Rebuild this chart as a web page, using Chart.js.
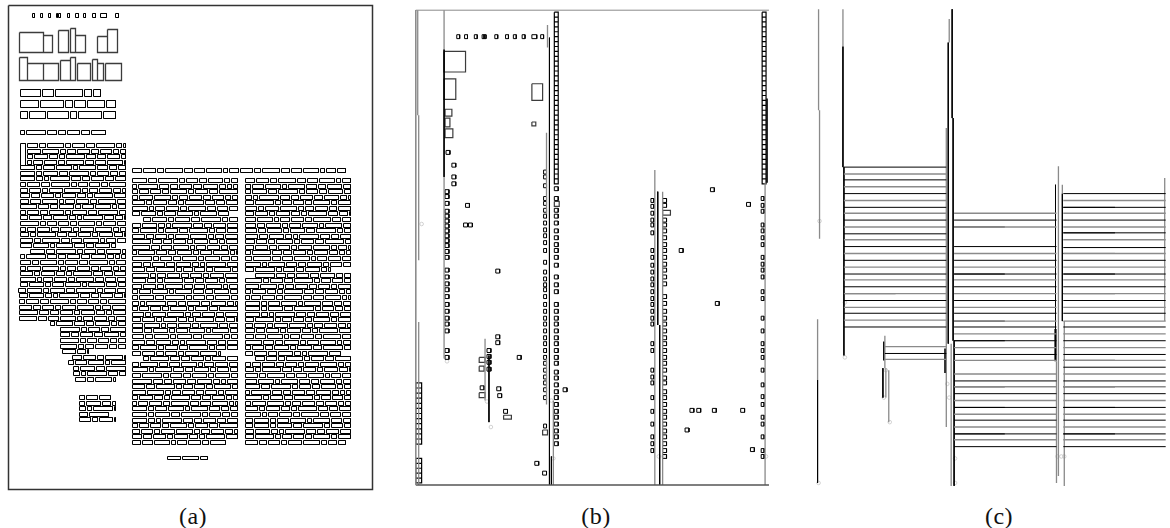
<!DOCTYPE html>
<html>
<head>
<meta charset="utf-8">
<script src="https://cdn.jsdelivr.net/npm/chart.js@4.4.1/dist/chart.umd.min.js"></script>
<style>
  body { margin: 0; background: #fff; width: 1170px; height: 528px; position: relative; overflow: hidden; }
  canvas { position: absolute; top: 0; }
  .lbl { position: absolute; top: 504px; width: 60px; margin-left: -30px; text-align: center; letter-spacing: 0.5px;
         font-family: 'Liberation Serif', 'DejaVu Serif', serif; font-size: 24px; line-height: 24px; color: #111; }
</style>
</head>
<body>
<canvas id="panelA" width="390" height="500" style="left:0px"></canvas>
<canvas id="panelB" width="395" height="500" style="left:390px"></canvas>
<canvas id="panelC" width="385" height="500" style="left:785px"></canvas>
<div class="lbl" style="left:193px">(a)</div>
<div class="lbl" style="left:596px">(b)</div>
<div class="lbl" style="left:999px">(c)</div>
<script>
const BLACK = '#000';
const DARK = '#3c3c3c';
const GRAY = '#8a8a8a';
const FAINT = '#c8c8c8';

// ---------- (a) page with word boxes ----------
const frameA = [8, 5, 372, 489];
const headerA = [[32,34],[40,42],[48,50],[56,57],[58,60],[67,69],[75,78],[83,85],[92,95],[100,106],[115,118]]; // y 13..17
const titleA = [[19,32,43,52],[43,35,52,52],[58,30,68,52],[70,28,75,52],[75,35,85,52],[97,36,107,52],[107,29,117,52],
  [19,57,27,80],[27,63,43,80],[43,63,58,80],[60,60,70,80],[70,57,75,80],[77,63,90,80],[92,59,97,80],[97,63,103,80],[105,63,121,80]];
const subtitleTopsA = [89, 100, 111];
const subtitleA = [[20,100],[20,115],[20,115]];
const authorA = [20, 105];      // y 130
const dropCapA = [20, 143, 25, 165];
const wideLineA = [132, 345];   // y 168
const footerA = [167, 207];     // y 456

const col1Top = 143, col1bTop = 395, col2Top = 178, col3Top = 178;
const linePitch = 5.57;
const col1Lines = [
  [27,125],[27,125],[27,125],[27,125],
  [20,125],[20,125],[20,125],[20,125],[20,125],[20,125],[20,125],[20,125],[20,125],[20,125],[20,125],[20,125],[20,125],[20,125],
  [20,115],[30,125],
  [20,125],[20,125],[20,125],[20,125],[20,125],[20,125],[18,125],[19,125],[19,125],[19,125],[19,125],[19,125],
  [50,125],[60,125],[60,125],[60,125],[60,125],[62,88],[72,125],[68,125],[73,125],[73,125],[75,115]
];
const col1bLines = [[79,110],[79,115],[79,115],[79,108],[79,115]];
const col2Lines = [
  [132,237],[132,237],[132,237],[132,237],[132,237],[132,237],[132,228],[143,237],
  [132,237],[132,237],[132,237],[132,237],[132,237],[132,237],[132,237],[132,237],[132,237],[132,237],[132,237],[132,237],
  [132,237],[132,237],[132,237],[132,237],[132,237],[132,237],[132,237],[132,237],[132,237],[132,237],[132,237],
  [132,220],[143,237],
  [132,237],[132,237],[132,237],[132,237],[132,237],[132,237],[132,237],[132,237],[132,237],[132,237],[132,237],[132,237],[132,237],[132,237],
  [132,225]
];
const col3Lines = [
  [245,350],[245,350],[245,350],[245,350],[245,350],[245,350],[245,350],[245,350],[245,350],[245,350],[245,350],[245,350],[245,350],[245,350],[245,350],[245,350],
  [245,330],[255,350],
  [245,350],[245,350],[245,350],[245,350],[245,350],[245,350],[245,350],[245,350],[245,350],[245,350],[245,350],[245,350],[245,350],
  [245,340],[255,350],
  [245,350],[245,350],[245,350],[245,350],[245,350],[245,350],[245,350],[245,350],[245,350],[245,350],[245,350],[245,350],[245,350],[245,350],
  [245,345]
];
const wordWidths = [
  [10, 6, 16, 5, 12, 8, 18, 5, 9],
  [5, 14, 8, 19, 5, 11, 7, 14],
  [15, 4, 9, 12, 6, 17, 8, 10],
  [7, 11, 5, 13, 16, 5, 8, 12],
  [12, 8, 14, 6, 4, 19, 9, 7],
  [4, 16, 10, 7, 14, 5, 11, 15],
  [8, 5, 18, 9, 8, 12, 5, 13]
];

// ---------- (b) projected boxes ----------
const frameBGray = [[411, 5, 489]];
const frameBTop = [411, 773, 5];
const frameBBottom = [411, 773, 489];
const headerB = [[453,456],[461,464],[471,474],[479,481],[481,483],[492,495],[503,506],[511,514],[520,523],[530,535],[539,542]]; // y 30..34
const bigBoxesB = [[440,47,462,68],[440,75,452,96],[441,106,448,113],[441,115,446,124],[441,126,449,135],[530,80,541,97],[530,119,534,123],
  [476,359,482,364],[476,368,481,373],[476,395,482,400],[501,418,509,422],[541,433,546,438],[664,209,672,214],[553,200,558,205]];
const stacksB = [[553,557,7,5,35],[766,770,7,5,35],[411,417,385,5.2,12],[411,417,462,5,5]]; // x0,x1,top,cell,count
const colXB = [[441,445],[542,545],[553,557],[652,655],[664,668],[765,768]];
const bCol1Y = [188,193,200,208,213,218,223,228,233,238,243,249,255,268,275,282,288,295,303,310,317,323,330,350,357];
const bCol2Y = [168,173,182,195,200,207,213,220,227,233,240,248,260,270,277,283,288,295,303,310,317,323,330,337,343,350,357,363,370,377,383,390,398,427];
const bCol3Y = [185,195,207,213,220,228,235,242,248,255,263,275,283,290,303,310,317,323,330,337,343,350,357,363,372,378,385,392,398,405,412,418,425,432,438,445];
const bCol4Y = [197,203,210,217,222,230,248,255,263,270,277,283,290,297,303,310,317,323,343,350,370,377,383,398,412,425,438,445,452];
const bCol5Y = [197,202,217,222,228,235,242,248,255,262,268,275,282,295,302,310,317,323,330,337,343,350,357,363,370,378,383,392,398,405,412,418,425,432,438,445,452,458];
const bCol6Y = [195,202,208,222,228,235,242,255,262,268,275,290,297,317,330,343,350,357,370,385,397,405,418,425,438,452,458];
const looseB = [[442,148],[448,161],[448,173],[448,180],[462,202],[460,222],[465,222],[493,269],[493,336],[493,342],[484,350],[484,356],[484,362],[484,369],
  [477,388],[494,389],[495,396],[501,412],[515,357],[533,465],[541,475],[562,390],[713,186],[750,201],[681,248],[718,302],[692,411],[699,411],[715,411],[744,411],[687,431],[754,451]];
const blackVB = [[440,45,175],[548,33,489],[486,357,425],[659,190,326],[661,326,489],[550,460,489]];
const grayVB = [[413,5,112],[414,112,260],[414,323,489],[440,5,45],[440,175,360],[546,20,43],[545,130,213],[545,360,407],[552,403,489],
  [482,340,403],[656,168,489],[664,190,489],[769,181,489]];
const thickVB = [[771,95,181]];
const dotsB = [[443,363],[484,404],[488,430],[550,403],[552,462],[660,460],[665,460],[770,460],[417,223]];

// ---------- (c) line structure ----------
const c1Span = [840, 945], c2Span = [953, 1058], c3Span = [1065, 1170];
const c1Split = 893, c2Split = 1005, c3Split = 1118;
const c1BlackY = [165,178,192,206,219,233,246,260,274,287,301,314,328];
const c1GrayY = [172,185,199,212,226,239,253,267,280,294,308,321];
const c1SplitY = [294];
const c2BlackY = [219,246,260,274,287,301,314,328,342,356,383,396,410,423,437,450];
const c2GrayY = [212,226,253,267,280,294,308,322,335,349,362,376,389,403,417,430,443];
const c2SplitY = [226,274,322,342,389,410,437];
const c3BlackY = [192,206,219,232,247,260,274,287,301,314,328,342,356,369,383,396,410,423,437,450];
const c3GrayY = [199,212,226,239,253,267,280,294,308,322,335,349,362,376,389,403,417,430,443];
const c3SplitY = [206,232,253,274,294,362,389,410,437];
const cSmallSpan = [882, 945];
const cSmallBlackY = [355];
const cSmallGrayY = [348, 361];
const blackVC = [[813,382,487],[839,42,165],[840,165,357],[947,38,345],[951,4,115],[952,115,342],[953,342,490],[1057,183,330],
  [1064,192,322],[881,343,362],[880,370,400]];
const grayVC = [[814,4,107],[815,107,238],[813,320,382],[839,4,42],[945,125,430],[948,14,38],[950,345,490],[1058,363,487],[1060,164,480],
  [1066,322,490],[1064,183,192],[1169,176,322],[882,337,370],[883,370,400],[886,372,425]];
const thickVC = [[944,350,375],[1057,330,363]];
const dotsC = [[815,220],[841,303],[841,359],[883,372],[881,400],[887,425],[946,386],[948,400],[954,462],[954,487],[1059,460],[1063,460],[1066,460],[814,487]];

// ---------- helpers ----------
function rectPts(rects) {
  const pts = [];
  rects.forEach(([x0, y0, x1, y1]) => {
    pts.push({x:x0,y:y0},{x:x1,y:y0},{x:x1,y:y1},{x:x0,y:y1},{x:x0,y:y0},{x:x0,y:null});
  });
  return pts;
}
function vPts(segs) {
  const pts = [];
  segs.forEach(([x, y0, y1]) => pts.push({x, y:y0},{x, y:y1},{x, y:null}));
  return pts;
}
function hPts(x0, x1, ys) {
  const pts = [];
  ys.forEach(y => pts.push({x:x0, y},{x:x1, y},{x:x1, y:null}));
  return pts;
}
function words(x0, x1, top, h, seed, scale) {
  scale = scale || 1;
  const ws = wordWidths[seed % wordWidths.length];
  const out = [];
  let x = x0, j = seed;
  while (x < x1 - 1) {
    let end = Math.round(x + ws[j % ws.length] * scale);
    j++;
    if (end > x1 - 3 * scale) end = x1;
    out.push([Math.round(x), Math.round(top), end, Math.round(top + h)]);
    x = end + Math.max(1.5, 1.5 * scale);
  }
  return out;
}
function block(lines, top, pitch, h, seed) {
  let out = [];
  lines.forEach(([a, b], i) => { out = out.concat(words(a, b, top + i * pitch, h, seed + i * 3)); });
  return out;
}
function lineSet(data, color, width) {
  return { data, borderColor: color, borderWidth: width || 1, pointRadius: 0, fill: false, tension: 0,
           spanGaps: false, clip: false, borderJoinStyle: 'miter', borderCapStyle: 'butt' };
}
function dotSet(points) {
  return { data: points.map(([x, y]) => ({x, y})), showLine: false, pointRadius: 1.8, pointStyle: 'circle',
           pointBorderColor: FAINT, pointBackgroundColor: 'rgba(0,0,0,0)', pointBorderWidth: 0.8, borderColor: FAINT, clip: false };
}
function drawPanel(id, left, width, datasets) {
  return new Chart(document.getElementById(id), {
    type: 'line',
    data: { datasets },
    options: {
      responsive: false, animation: false, events: [],
      layout: { padding: 0 },
      plugins: { legend: { display: false }, tooltip: { enabled: false } },
      scales: {
        x: { type: 'linear', display: false, min: left - 0.5, max: left - 0.5 + width },
        y: { type: 'linear', display: false, reverse: true, min: -0.5, max: 499.5 }
      }
    }
  });
}

// ---------- panel (a) ----------
let boxesA = [];
headerA.forEach(([a, b]) => boxesA.push([a, 13, b, 17]));
subtitleA.forEach(([a, b], i) => { boxesA = boxesA.concat(words(a, b, subtitleTopsA[i], 7, i * 2 + 1, 1.4)); });
boxesA = boxesA.concat(words(authorA[0], authorA[1], 130, 4, 4));
boxesA = boxesA.concat(words(wideLineA[0], wideLineA[1], 168, 4, 2));
boxesA = boxesA.concat(block(col1Lines, col1Top, linePitch, 4, 0));
boxesA = boxesA.concat(block(col1bLines, col1bTop, linePitch, 4, 5));
boxesA = boxesA.concat(block(col2Lines, col2Top, linePitch, 4, 1));
boxesA = boxesA.concat(block(col3Lines, col3Top, linePitch, 4, 2));
boxesA = boxesA.concat(words(footerA[0], footerA[1], 456, 3, 3));
boxesA.push(dropCapA);

drawPanel('panelA', 0, 390, [
  lineSet(rectPts([frameA]), '#333', 1.5),
  lineSet(rectPts(titleA), DARK, 1.3),
  lineSet(rectPts(boxesA), BLACK, 1)
]);

// ---------- panel (b) ----------
let boxesB = [];
headerB.forEach(([a, b]) => boxesB.push([a, 30, b, 34]));
let stackBoxes = [];
stacksB.forEach(([x0, x1, top, cell, n]) => {
  for (let i = 0; i < n; i++) stackBoxes.push([x0, top + i * cell, x1, top + (i + 1) * cell]);
});
[bCol1Y, bCol2Y, bCol3Y, bCol4Y, bCol5Y, bCol6Y].forEach((ys, k) => {
  const [x0, x1] = colXB[k];
  ys.forEach(y => boxesB.push([x0, y, x1, y + 4]));
});
looseB.forEach(([x, y]) => boxesB.push([x, y, x + 4, y + 4]));

drawPanel('panelB', 390, 395, [
  lineSet(vPts(frameBGray), GRAY, 1),
  lineSet(hPts(frameBTop[0], frameBTop[1], [frameBTop[2]]), GRAY, 1),
  lineSet(hPts(frameBBottom[0], frameBBottom[1], [frameBBottom[2]]), '#555', 1.5),
  lineSet(vPts(grayVB), GRAY, 1.3),
  lineSet(vPts(blackVB), BLACK, 1),
  lineSet(vPts(thickVB), BLACK, 1.6),
  lineSet(rectPts(bigBoxesB), DARK, 1.2),
  lineSet(rectPts(stackBoxes), BLACK, 1.2),
  lineSet(rectPts(boxesB), BLACK, 1),
  dotSet(dotsB)
]);

// ---------- panel (c) ----------
function splitLeft(span, split, ys) { return hPts(span[0], split, ys); }
drawPanel('panelC', 785, 385, [
  lineSet(hPts(c1Span[0], c1Span[1], c1GrayY), GRAY, 1.4),
  lineSet(hPts(c2Span[0], c2Span[1], c2GrayY), GRAY, 1.4),
  lineSet(hPts(c3Span[0], c3Span[1], c3GrayY), GRAY, 1.4),
  lineSet(hPts(cSmallSpan[0], cSmallSpan[1], cSmallGrayY), GRAY, 1.4),
  lineSet(hPts(c1Span[0], c1Span[1], c1BlackY), BLACK, 1),
  lineSet(hPts(c2Span[0], c2Span[1], c2BlackY), BLACK, 1),
  lineSet(hPts(c3Span[0], c3Span[1], c3BlackY), BLACK, 1),
  lineSet(hPts(cSmallSpan[0], cSmallSpan[1], cSmallBlackY), BLACK, 1),
  lineSet(splitLeft(c1Span, c1Split, c1SplitY), BLACK, 1),
  lineSet(splitLeft(c2Span, c2Split, c2SplitY), BLACK, 1),
  lineSet(splitLeft(c3Span, c3Split, c3SplitY), BLACK, 1),
  lineSet(vPts(grayVC), GRAY, 1.3),
  lineSet(vPts(blackVC), BLACK, 1),
  lineSet(vPts(thickVC), BLACK, 2.2),
  dotSet(dotsC)
]);
</script>
</body>
</html>
